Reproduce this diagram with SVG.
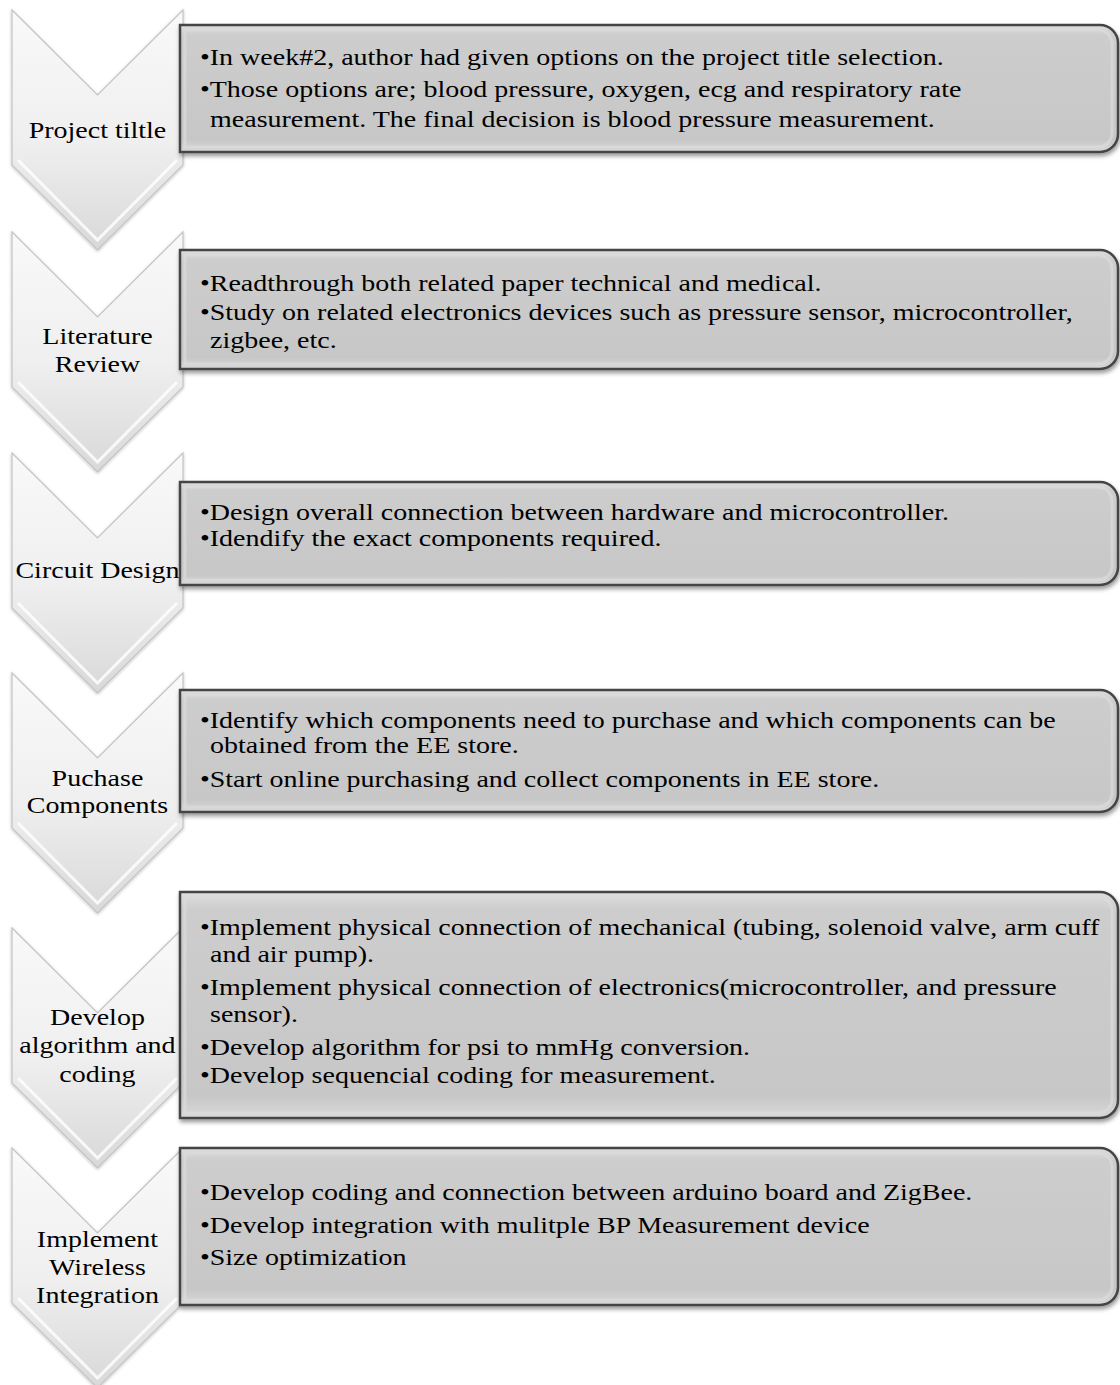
<svg xmlns="http://www.w3.org/2000/svg" width="1120" height="1385" viewBox="0 0 1120 1385">
<defs>
<linearGradient id="chevGrad" x1="0" y1="0" x2="0" y2="1">
<stop offset="0" stop-color="#f9f9f9"/>
<stop offset="0.55" stop-color="#efefef"/>
<stop offset="1" stop-color="#d8d8d8"/>
</linearGradient>
<linearGradient id="boxGrad" x1="0" y1="0" x2="0" y2="1">
<stop offset="0" stop-color="#dedede"/>
<stop offset="0.08" stop-color="#cdcdcd"/>
<stop offset="0.9" stop-color="#c7c7c7"/>
<stop offset="1" stop-color="#d9d9d9"/>
</linearGradient>
<filter id="shadow" x="-5%" y="-20%" width="110%" height="140%">
<feDropShadow dx="1" dy="3" stdDeviation="2" flood-color="#000" flood-opacity="0.4"/>
</filter>
<filter id="cshadow" x="-10%" y="-10%" width="120%" height="120%">
<feDropShadow dx="0" dy="1" stdDeviation="1.5" flood-color="#000" flood-opacity="0.25"/>
</filter>
</defs>
<style>
.chev{fill:url(#chevGrad);stroke:#c4c4c4;stroke-width:1.2;filter:url(#cshadow)}
.chevIn{fill:none;stroke:#ffffff;stroke-width:3;opacity:0.8}
.box{fill:url(#boxGrad);stroke:#444444;stroke-width:2.5;filter:url(#shadow)}
.boxIn{fill:none;stroke:#dcdcdc;stroke-width:3;opacity:0.7}
.t{font-family:"Liberation Serif","Times New Roman",serif;font-size:22.5px;fill:#000}
.c{text-anchor:middle}
</style>

<g id="connectors"/>

<g id="chevron1">
<polygon class="chev" points="12,10 97.5,95 183,10 183,165 97.5,250 12,165"/>
<polyline class="chevIn" points="18,160 97.5,240 177,160"/>
<g transform="scale(1.245,1)"><text class="t c" x="78.3" y="138">Project tiltle</text></g>
</g>
<g id="box1">
<path class="box" d="M180,25 H1100 A18,18 0 0 1 1118,43 V134 A18,18 0 0 1 1100,152 H180 Z"/>
<path class="boxIn" d="M185,30 H1098 A14,14 0 0 1 1112,44 V133 A14,14 0 0 1 1098,147 H185 Z"/>
<g transform="scale(1.245,1)">
<text class="t" x="160.6" y="65">•In week#2, author had given options on the project title selection.</text>
<text class="t" x="160.6" y="97">•Those options are; blood pressure, oxygen, ecg and respiratory rate</text>
<text class="t" x="168.7" y="127">measurement. The final decision is blood pressure measurement.</text>
</g>
</g>

<g id="chevron2">
<polygon class="chev" points="12,232 97.5,317 183,232 183,387 97.5,472 12,387"/>
<polyline class="chevIn" points="18,382 97.5,462 177,382"/>
<g transform="scale(1.245,1)">
<text class="t c" x="78.3" y="344">Literature</text>
<text class="t c" x="78.3" y="372">Review</text>
</g>
</g>
<g id="box2">
<path class="box" d="M180,250 H1100 A18,18 0 0 1 1118,268 V351 A18,18 0 0 1 1100,369 H180 Z"/>
<path class="boxIn" d="M185,255 H1098 A14,14 0 0 1 1112,269 V350 A14,14 0 0 1 1098,364 H185 Z"/>
<g transform="scale(1.245,1)">
<text class="t" x="160.6" y="291">•Readthrough both related paper technical and medical.</text>
<text class="t" x="160.6" y="320">•Study on related electronics devices such as pressure sensor, microcontroller,</text>
<text class="t" x="168.7" y="348">zigbee, etc.</text>
</g>
</g>

<g id="chevron3">
<polygon class="chev" points="12,453 97.5,538 183,453 183,608 97.5,693 12,608"/>
<polyline class="chevIn" points="18,603 97.5,683 177,603"/>
<g transform="scale(1.245,1)"><text class="t c" x="78.3" y="578">Circuit Design</text></g>
</g>
<g id="box3">
<path class="box" d="M180,482 H1100 A18,18 0 0 1 1118,500 V567 A18,18 0 0 1 1100,585 H180 Z"/>
<path class="boxIn" d="M185,487 H1098 A14,14 0 0 1 1112,501 V566 A14,14 0 0 1 1098,580 H185 Z"/>
<g transform="scale(1.245,1)">
<text class="t" x="160.6" y="520">•Design overall connection between hardware and microcontroller.</text>
<text class="t" x="160.6" y="546">•Idendify the exact components required.</text>
</g>
</g>

<g id="chevron4">
<polygon class="chev" points="12,673 97.5,758 183,673 183,828 97.5,913 12,828"/>
<polyline class="chevIn" points="18,823 97.5,903 177,823"/>
<g transform="scale(1.245,1)">
<text class="t c" x="78.3" y="786">Puchase</text>
<text class="t c" x="78.3" y="813">Components</text>
</g>
</g>
<g id="box4">
<path class="box" d="M180,690 H1100 A18,18 0 0 1 1118,708 V794 A18,18 0 0 1 1100,812 H180 Z"/>
<path class="boxIn" d="M185,695 H1098 A14,14 0 0 1 1112,709 V793 A14,14 0 0 1 1098,807 H185 Z"/>
<g transform="scale(1.245,1)">
<text class="t" x="160.6" y="728">•Identify which components need to purchase and which components can be</text>
<text class="t" x="168.7" y="753">obtained from the EE store.</text>
<text class="t" x="160.6" y="787">•Start online purchasing and collect components in EE store.</text>
</g>
</g>

<g id="chevron5">
<polygon class="chev" points="12,928 97.5,1013 183,928 183,1083 97.5,1168 12,1083"/>
<polyline class="chevIn" points="18,1078 97.5,1158 177,1078"/>
<g transform="scale(1.245,1)">
<text class="t c" x="78.3" y="1025">Develop</text>
<text class="t c" x="78.3" y="1053">algorithm and</text>
<text class="t c" x="78.3" y="1082">coding</text>
</g>
</g>
<g id="box5">
<path class="box" d="M180,892 H1100 A18,18 0 0 1 1118,910 V1100 A18,18 0 0 1 1100,1118 H180 Z"/>
<path class="boxIn" d="M185,897 H1098 A14,14 0 0 1 1112,911 V1099 A14,14 0 0 1 1098,1113 H185 Z"/>
<g transform="scale(1.245,1)">
<text class="t" x="160.6" y="935">•Implement physical connection of mechanical (tubing, solenoid valve, arm cuff</text>
<text class="t" x="168.7" y="962">and air pump).</text>
<text class="t" x="160.6" y="995">•Implement physical connection of electronics(microcontroller, and pressure</text>
<text class="t" x="168.7" y="1022">sensor).</text>
<text class="t" x="160.6" y="1055">•Develop algorithm for psi to mmHg conversion.</text>
<text class="t" x="160.6" y="1083">•Develop sequencial coding for measurement.</text>
</g>
</g>

<g id="chevron6">
<polygon class="chev" points="12,1148 97.5,1233 183,1148 183,1303 97.5,1388 12,1303"/>
<polyline class="chevIn" points="18,1298 97.5,1378 177,1298"/>
<g transform="scale(1.245,1)">
<text class="t c" x="78.3" y="1247">Implement</text>
<text class="t c" x="78.3" y="1275">Wireless</text>
<text class="t c" x="78.3" y="1303">Integration</text>
</g>
</g>
<g id="box6">
<path class="box" d="M180,1148 H1100 A18,18 0 0 1 1118,1166 V1287 A18,18 0 0 1 1100,1305 H180 Z"/>
<path class="boxIn" d="M185,1153 H1098 A14,14 0 0 1 1112,1167 V1286 A14,14 0 0 1 1098,1300 H185 Z"/>
<g transform="scale(1.245,1)">
<text class="t" x="160.6" y="1200">•Develop coding and connection between arduino board and ZigBee.</text>
<text class="t" x="160.6" y="1233">•Develop integration with mulitple BP Measurement device</text>
<text class="t" x="160.6" y="1265">•Size optimization</text>
</g>
</g>
</svg>
